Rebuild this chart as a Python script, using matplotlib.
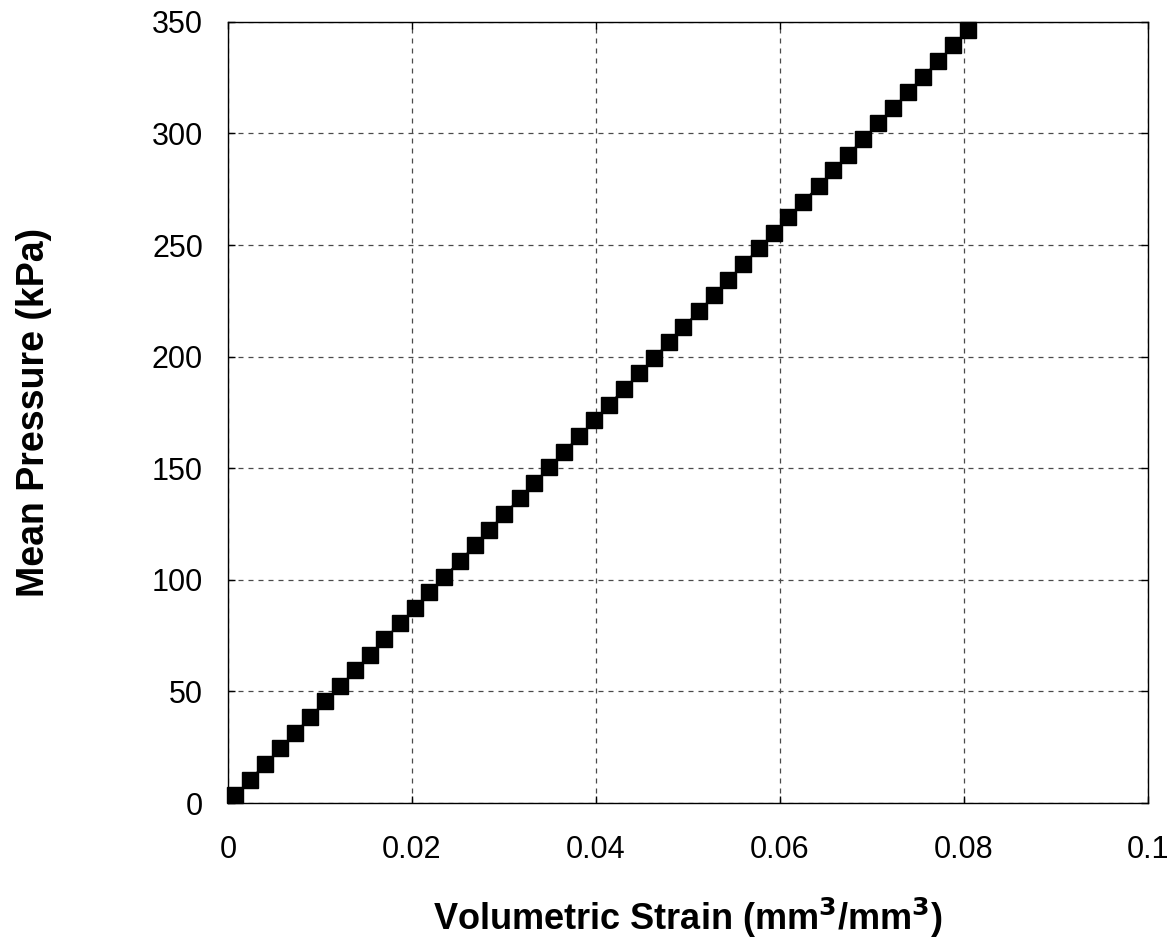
import numpy as np
import matplotlib.pyplot as plt

plt.rcParams['font.family'] = ['Liberation Sans', 'DejaVu Sans']

# volumetric strain (mm3/mm3)
strain = [0.0008, 0.0024, 0.0040, 0.0057, 0.0073, 0.0089, 0.0105, 0.0122, 0.0138, 0.0154,
          0.0170, 0.0187, 0.0203, 0.0219, 0.0235, 0.0252, 0.0268, 0.0284, 0.0300, 0.0317,
          0.0333, 0.0349, 0.0365, 0.0382, 0.0398, 0.0414, 0.0430, 0.0447, 0.0463, 0.0479,
          0.0495, 0.0512, 0.0528, 0.0544, 0.0560, 0.0577, 0.0593, 0.0609, 0.0625, 0.0642,
          0.0658, 0.0674, 0.0690, 0.0707, 0.0723, 0.0739, 0.0755, 0.0772, 0.0788, 0.0804]

# mean pressure (kPa)
pressure = [3.5, 10.5, 17.5, 24.5, 31.5, 38.5, 45.5, 52.5, 59.5, 66.5,
            73.5, 80.5, 87.5, 94.5, 101.5, 108.5, 115.5, 122.5, 129.5, 136.5,
            143.5, 150.5, 157.5, 164.5, 171.5, 178.5, 185.5, 192.5, 199.5, 206.5,
            213.5, 220.5, 227.5, 234.5, 241.5, 248.5, 255.5, 262.5, 269.5, 276.5,
            283.5, 290.5, 297.5, 304.5, 311.5, 318.5, 325.5, 332.5, 339.5, 346.5]

xticks = [0, 0.02, 0.04, 0.06, 0.08, 0.1]
xticklabels = ['0', '0.02', '0.04', '0.06', '0.08', '0.1']
yticks = [0, 50, 100, 150, 200, 250, 300, 350]

fig = plt.figure(figsize=(11.75, 9.4), dpi=100)
ax = fig.add_axes([0.194, 0.1457, 0.783, 0.831])

ax.plot(strain, pressure, color='k', lw=1, marker='s', ms=12,
        markerfacecolor='k', markeredgecolor='k', clip_on=False, zorder=3)

ax.set_xlim(0, 0.1)
ax.set_ylim(0, 350)
ax.set_xticks(xticks)
ax.set_xticklabels(xticklabels)
ax.set_yticks(yticks)

ax.grid(True, color='#4a4a4a', linestyle=(0, (4, 4)), linewidth=0.9)
ax.tick_params(direction='in', length=5, width=1, top=True, right=True,
               labelsize=22)
ax.tick_params(axis='x', pad=23)
ax.tick_params(axis='y', pad=18)
for s in ax.spines.values():
    s.set_linewidth(1)

ax.set_xlabel(r'Volumetric Strain (mm$^\mathbf{3}$/mm$^\mathbf{3}$)',
              fontsize=26, fontweight='bold', labelpad=22)
ax.set_ylabel('Mean Pressure (kPa)', fontsize=27, fontweight='bold', labelpad=72)

fig.savefig('out.png', dpi=100)
plt.close()
